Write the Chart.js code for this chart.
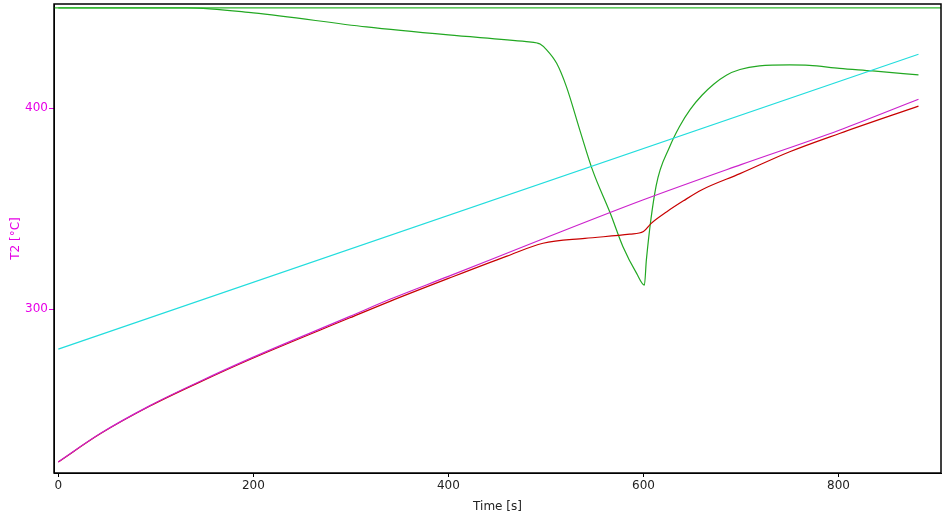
<!DOCTYPE html>
<html>
<head>
<meta charset="utf-8">
<script src="https://cdn.jsdelivr.net/npm/chart.js"></script>
<style>
    html, body { margin: 0; padding: 0; background: #fff; }
    #wrap { width: 944px; height: 518px; }
</style>
</head>
<body>
<div id="wrap"><canvas id="c"></canvas></div>
<script>
    // 1. Data (time in s, temperature in °C)
    const magentaTime = [0, 43, 94, 145, 197, 299, 340, 400, 494, 600, 700, 800, 882];
    const magentaT = [224.1, 238.2, 252.1, 264.1, 275.6, 296.5, 305.0, 316.4, 334.5, 354.5, 372.0, 389.0, 404.5];

    const redTime = [0, 43, 94, 145, 197, 299, 340, 400, 460, 497, 540, 586, 600, 608, 624, 641, 660, 699, 750, 801, 882];
    const redT = [224.1, 238.1, 251.9, 263.8, 275.2, 295.8, 304.0, 315.4, 326.5, 332.9, 335.3, 337.4, 338.7, 342.8, 348.6, 354.0, 359.5, 367.5, 378.4, 387.5, 401.1];

    const cyanTime = [0, 882];
    const cyanT = [280.2, 426.9];

    const greenTime = [0, 132, 200, 316, 400, 480, 491, 494, 500, 511, 521, 535, 548, 566, 579, 593, 601, 603, 613, 627, 637, 648, 660, 672, 685, 699, 719, 750, 770, 801, 835, 882];
    const greenT = [450, 450, 447.5, 440.5, 436.5, 433.2, 432.5, 432.0, 429.5, 422.4, 410.8, 388.8, 369.0, 347.8, 331.2, 317.9, 312.1, 324.6, 361.4, 381.0, 391.0, 399.5, 406.5, 412.0, 416.5, 419.3, 421.1, 421.6, 421.4, 419.9, 418.6, 416.6];

    const limitTime = [-10, 910];
    const limitT = [450, 450];

    const xTicks = [0, 200, 400, 600, 800];
    const yTicks = [300, 400];

    const pts = (xs, ys) => xs.map((x, i) => ({ x: x, y: ys[i] }));

    const line = (data, color, smooth) => ({
        data: data,
        borderColor: color,
        borderWidth: 1.2,
        pointRadius: 0,
        fill: false,
        cubicInterpolationMode: smooth ? 'monotone' : 'default',
        tension: 0
    });

    // 2. Frame round the plot area
    const framePlugin = {
        id: 'frame',
        afterDraw(chart) {
            const a = chart.chartArea;
            const ctx = chart.ctx;
            ctx.save();
            ctx.strokeStyle = '#000';
            ctx.lineWidth = 1.5;
            ctx.strokeRect(a.left, a.top, a.right - a.left, a.bottom - a.top);
            ctx.restore();
        }
    };

    const tickFont = { family: 'DejaVu Sans', size: 12 };

    new Chart(document.getElementById('c'), {
        type: 'line',
        data: {
            datasets: [
                line(pts(limitTime, limitT), '#2eb82e', false),
                line(pts(cyanTime, cyanT), '#22dddd', false),
                line(pts(magentaTime, magentaT), '#cc22cc', true),
                line(pts(redTime, redT), '#c80000', true),
                line(pts(greenTime, greenT), '#22a822', true)
            ]
        },
        options: {
            responsive: true,
            maintainAspectRatio: false,
            animation: false,
            layout: { padding: { top: 4, right: 3, bottom: 0, left: 0 } },
            scales: {
                x: {
                    type: 'linear',
                    min: -4.4,
                    max: 905.1,
                    afterBuildTicks: (s) => { s.ticks = xTicks.map(v => ({ value: v })); },
                    afterFit: (s) => { s.height = 45; s.paddingLeft = 0; s.paddingRight = 0; },
                    grid: { drawOnChartArea: false, color: '#000', tickLength: 4 },
                    border: { color: '#000', width: 1 },
                    ticks: { color: '#222', font: tickFont, padding: 2, maxRotation: 0 },
                    title: { display: true, text: 'Time [s]', color: '#222', font: tickFont, padding: { top: 2, bottom: 4 } }
                },
                y: {
                    type: 'linear',
                    min: 218.6,
                    max: 451.9,
                    afterBuildTicks: (s) => { s.ticks = yTicks.map(v => ({ value: v })); },
                    afterFit: (s) => { s.width = 54; s.paddingTop = 0; s.paddingBottom = 0; },
                    grid: { drawOnChartArea: false, color: '#e600e6', tickLength: 5 },
                    border: { color: '#000', width: 1 },
                    ticks: { color: '#e600e6', font: tickFont, padding: 1 },
                    title: { display: true, text: 'T2 [°C]', color: '#e600e6', font: tickFont, padding: { top: 9, bottom: 2 } }
                }
            },
            plugins: {
                legend: { display: false },
                tooltip: { enabled: false }
            }
        },
        plugins: [framePlugin]
    });
</script>
</body>
</html>
